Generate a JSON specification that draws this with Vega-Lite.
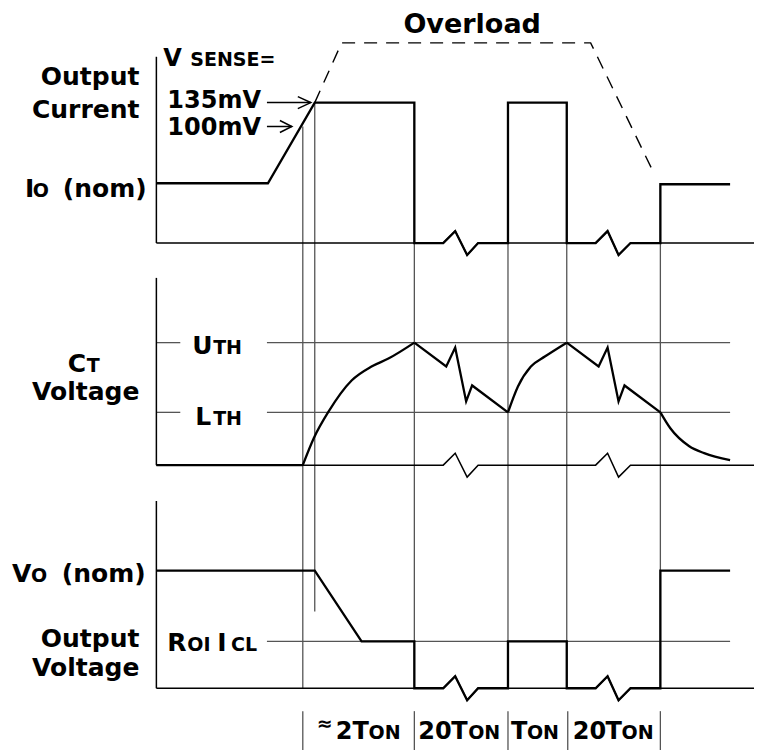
{
  "$schema": "https://vega.github.io/schema/vega-lite/v6.json",
  "width": 757,
  "height": 753,
  "autosize": {"type": "fit", "contains": "padding"},
  "padding": 0,
  "background": "white",
  "config": {"view": {"stroke": null}, "text": {"font": "DejaVu Sans", "fontWeight": "bold", "color": "black"}},
  "datasets": {
    "frame": [
      {"id": "ax1", "i": 0, "x": 157, "y": 57}, {"id": "ax1", "i": 1, "x": 157, "y": 244},
      {"id": "b1", "i": 0, "x": 157, "y": 244}, {"id": "b1", "i": 1, "x": 445, "y": 244}, {"id": "b1", "i": 2, "x": 457, "y": 232}, {"id": "b1", "i": 3, "x": 469, "y": 256}, {"id": "b1", "i": 4, "x": 480, "y": 244}, {"id": "b1", "i": 5, "x": 598, "y": 244}, {"id": "b1", "i": 6, "x": 610, "y": 232}, {"id": "b1", "i": 7, "x": 621, "y": 256}, {"id": "b1", "i": 8, "x": 633, "y": 244}, {"id": "b1", "i": 9, "x": 757, "y": 244},
      {"id": "ax2", "i": 0, "x": 157, "y": 279}, {"id": "ax2", "i": 1, "x": 157, "y": 467},
      {"id": "b2", "i": 0, "x": 157, "y": 467}, {"id": "b2", "i": 1, "x": 445, "y": 467}, {"id": "b2", "i": 2, "x": 457, "y": 455}, {"id": "b2", "i": 3, "x": 469, "y": 479}, {"id": "b2", "i": 4, "x": 480, "y": 467}, {"id": "b2", "i": 5, "x": 598, "y": 467}, {"id": "b2", "i": 6, "x": 610, "y": 455}, {"id": "b2", "i": 7, "x": 621, "y": 479}, {"id": "b2", "i": 8, "x": 633, "y": 467}, {"id": "b2", "i": 9, "x": 757, "y": 467},
      {"id": "ax3", "i": 0, "x": 157, "y": 503}, {"id": "ax3", "i": 1, "x": 157, "y": 691},
      {"id": "b3", "i": 0, "x": 157, "y": 691}, {"id": "b3", "i": 1, "x": 445, "y": 691}, {"id": "b3", "i": 2, "x": 457, "y": 679}, {"id": "b3", "i": 3, "x": 469, "y": 703}, {"id": "b3", "i": 4, "x": 480, "y": 691}, {"id": "b3", "i": 5, "x": 598, "y": 691}, {"id": "b3", "i": 6, "x": 610, "y": 679}, {"id": "b3", "i": 7, "x": 621, "y": 703}, {"id": "b3", "i": 8, "x": 633, "y": 691}, {"id": "b3", "i": 9, "x": 757, "y": 691},
      {"id": "a1", "i": 0, "x": 268, "y": 103}, {"id": "a1", "i": 1, "x": 312, "y": 103},
      {"id": "a1h", "i": 0, "x": 299, "y": 97}, {"id": "a1h", "i": 1, "x": 312, "y": 103}, {"id": "a1h", "i": 2, "x": 299, "y": 109},
      {"id": "a2", "i": 0, "x": 268, "y": 127}, {"id": "a2", "i": 1, "x": 293, "y": 127},
      {"id": "a2h", "i": 0, "x": 281, "y": 121}, {"id": "a2h", "i": 1, "x": 293, "y": 127}, {"id": "a2h", "i": 2, "x": 281, "y": 133}
    ],
    "guide": [
      {"id": "u1", "i": 0, "x": 157, "y": 344}, {"id": "u1", "i": 1, "x": 181, "y": 344},
      {"id": "u2", "i": 0, "x": 268, "y": 344}, {"id": "u2", "i": 1, "x": 733, "y": 344},
      {"id": "l1", "i": 0, "x": 157, "y": 414}, {"id": "l1", "i": 1, "x": 181, "y": 414},
      {"id": "l2", "i": 0, "x": 268, "y": 414}, {"id": "l2", "i": 1, "x": 733, "y": 414},
      {"id": "r1", "i": 0, "x": 268, "y": 644}, {"id": "r1", "i": 1, "x": 733, "y": 644},
      {"id": "v304", "i": 0, "x": 304, "y": 127}, {"id": "v304", "i": 1, "x": 304, "y": 691},
      {"id": "v316", "i": 0, "x": 316, "y": 103}, {"id": "v316", "i": 1, "x": 316, "y": 614},
      {"id": "v416", "i": 0, "x": 416, "y": 103}, {"id": "v416", "i": 1, "x": 416, "y": 691},
      {"id": "v510", "i": 0, "x": 510, "y": 103}, {"id": "v510", "i": 1, "x": 510, "y": 691},
      {"id": "v569", "i": 0, "x": 569, "y": 103}, {"id": "v569", "i": 1, "x": 569, "y": 691},
      {"id": "v663", "i": 0, "x": 663, "y": 185}, {"id": "v663", "i": 1, "x": 663, "y": 691},
      {"id": "t304", "i": 0, "x": 304, "y": 714}, {"id": "t304", "i": 1, "x": 304, "y": 753},
      {"id": "t416", "i": 0, "x": 416, "y": 714}, {"id": "t416", "i": 1, "x": 416, "y": 753},
      {"id": "t510", "i": 0, "x": 510, "y": 714}, {"id": "t510", "i": 1, "x": 510, "y": 753},
      {"id": "t569", "i": 0, "x": 570, "y": 714}, {"id": "t569", "i": 1, "x": 570, "y": 753},
      {"id": "t663", "i": 0, "x": 663, "y": 714}, {"id": "t663", "i": 1, "x": 663, "y": 753}
    ],
    "dash": [
      {"id": "d", "i": 0, "x": 316, "y": 103}, {"id": "d", "i": 1, "x": 343, "y": 43}, {"id": "d", "i": 2, "x": 593, "y": 43}, {"id": "d", "i": 3, "x": 657, "y": 175}
    ],
    "signal": [
      {"id": "sI", "i": 0, "x": 157, "y": 184}, {"id": "sI", "i": 1, "x": 269, "y": 184}, {"id": "sI", "i": 2, "x": 316, "y": 103}, {"id": "sI", "i": 3, "x": 416, "y": 103}, {"id": "sI", "i": 4, "x": 416, "y": 244}, {"id": "sI", "i": 5, "x": 445, "y": 244}, {"id": "sI", "i": 6, "x": 457, "y": 232}, {"id": "sI", "i": 7, "x": 469, "y": 256}, {"id": "sI", "i": 8, "x": 480, "y": 244}, {"id": "sI", "i": 9, "x": 510, "y": 244}, {"id": "sI", "i": 10, "x": 510, "y": 103}, {"id": "sI", "i": 11, "x": 569, "y": 103}, {"id": "sI", "i": 12, "x": 569, "y": 244}, {"id": "sI", "i": 13, "x": 598, "y": 244}, {"id": "sI", "i": 14, "x": 610, "y": 232}, {"id": "sI", "i": 15, "x": 621, "y": 256}, {"id": "sI", "i": 16, "x": 633, "y": 244}, {"id": "sI", "i": 17, "x": 663, "y": 244}, {"id": "sI", "i": 18, "x": 663, "y": 185}, {"id": "sI", "i": 19, "x": 733, "y": 185},
      {"id": "sC1", "i": 0, "x": 157, "y": 467}, {"id": "sC1", "i": 1, "x": 304, "y": 467},
      {"id": "sC2", "i": 0, "x": 416, "y": 344}, {"id": "sC2", "i": 1, "x": 448, "y": 368}, {"id": "sC2", "i": 2, "x": 457, "y": 349}, {"id": "sC2", "i": 3, "x": 468, "y": 403}, {"id": "sC2", "i": 4, "x": 474, "y": 387}, {"id": "sC2", "i": 5, "x": 510, "y": 414},
      {"id": "sC3", "i": 0, "x": 569, "y": 344}, {"id": "sC3", "i": 1, "x": 601, "y": 368}, {"id": "sC3", "i": 2, "x": 610, "y": 349}, {"id": "sC3", "i": 3, "x": 621, "y": 403}, {"id": "sC3", "i": 4, "x": 627, "y": 387}, {"id": "sC3", "i": 5, "x": 663, "y": 414},
      {"id": "sV", "i": 0, "x": 157, "y": 573}, {"id": "sV", "i": 1, "x": 316, "y": 573}, {"id": "sV", "i": 2, "x": 363, "y": 644}, {"id": "sV", "i": 3, "x": 416, "y": 644}, {"id": "sV", "i": 4, "x": 416, "y": 691}, {"id": "sV", "i": 5, "x": 445, "y": 691}, {"id": "sV", "i": 6, "x": 457, "y": 679}, {"id": "sV", "i": 7, "x": 469, "y": 703}, {"id": "sV", "i": 8, "x": 480, "y": 691}, {"id": "sV", "i": 9, "x": 510, "y": 691}, {"id": "sV", "i": 10, "x": 510, "y": 644}, {"id": "sV", "i": 11, "x": 569, "y": 644}, {"id": "sV", "i": 12, "x": 569, "y": 691}, {"id": "sV", "i": 13, "x": 598, "y": 691}, {"id": "sV", "i": 14, "x": 610, "y": 679}, {"id": "sV", "i": 15, "x": 621, "y": 703}, {"id": "sV", "i": 16, "x": 633, "y": 691}, {"id": "sV", "i": 17, "x": 663, "y": 691}, {"id": "sV", "i": 18, "x": 663, "y": 573}, {"id": "sV", "i": 19, "x": 733, "y": 573}
    ],
    "curve": [
      {"id": "k1", "i": 0, "x": 304, "y": 467}, {"id": "k1", "i": 1, "x": 315, "y": 440}, {"id": "k1", "i": 2, "x": 330, "y": 413}, {"id": "k1", "i": 3, "x": 353, "y": 382}, {"id": "k1", "i": 4, "x": 373, "y": 368}, {"id": "k1", "i": 5, "x": 390, "y": 360}, {"id": "k1", "i": 6, "x": 416, "y": 344},
      {"id": "k2", "i": 0, "x": 510, "y": 414}, {"id": "k2", "i": 1, "x": 520, "y": 388}, {"id": "k2", "i": 2, "x": 533, "y": 368}, {"id": "k2", "i": 3, "x": 547, "y": 358}, {"id": "k2", "i": 4, "x": 569, "y": 344},
      {"id": "k3", "i": 0, "x": 663, "y": 414}, {"id": "k3", "i": 1, "x": 673, "y": 430}, {"id": "k3", "i": 2, "x": 692, "y": 448}, {"id": "k3", "i": 3, "x": 707, "y": 455}, {"id": "k3", "i": 4, "x": 733, "y": 462}
    ],
    "labelsRight": [
      {"t": "Output", "x": 140, "y": 85}, {"t": "Current", "x": 140, "y": 118},
      {"t": "Voltage", "x": 140, "y": 402},
      {"t": "Output", "x": 140, "y": 650}, {"t": "Voltage", "x": 140, "y": 679}
    ],
    "bigLeft": [
      {"t": "I", "x": 25, "y": 198}, {"t": "(nom)", "x": 63, "y": 198},
      {"t": "V", "x": 12, "y": 584}, {"t": "(nom)", "x": 62, "y": 584},
      {"t": "C", "x": 68, "y": 373},
      {"t": "U", "x": 193, "y": 355}, {"t": "L", "x": 196, "y": 427},
      {"t": "R", "x": 168, "y": 654}, {"t": "I", "x": 218, "y": 654}
    ],
    "mid": [
      {"t": "V", "x": 164, "y": 66}, {"t": "135mV", "x": 168, "y": 108}, {"t": "100mV", "x": 168, "y": 136},
      {"t": "2", "x": 337, "y": 742}, {"t": "T", "x": 354, "y": 742},
      {"t": "20", "x": 420, "y": 742}, {"t": "T", "x": 453, "y": 742},
      {"t": "T", "x": 513, "y": 742},
      {"t": "20", "x": 575, "y": 742}, {"t": "T", "x": 608, "y": 742}
    ],
    "title": [
      {"t": "Overload", "x": 405, "y": 33}
    ],
    "small": [
      {"t": "SENSE=", "x": 191, "y": 66},
      {"t": "O", "x": 33, "y": 198}, {"t": "O", "x": 31, "y": 584},
      {"t": "T", "x": 87, "y": 373},
      {"t": "TH", "x": 214, "y": 355}, {"t": "TH", "x": 214, "y": 427},
      {"t": "OI", "x": 188, "y": 654}, {"t": "CL", "x": 232, "y": 654},
      {"t": "≈", "x": 318, "y": 733},
      {"t": "ON", "x": 370, "y": 742}, {"t": "ON", "x": 470, "y": 742}, {"t": "ON", "x": 529, "y": 742}, {"t": "ON", "x": 624, "y": 742}
    ]
  },
  "encoding": {
    "x": {"field": "x", "type": "quantitative", "scale": {"domain": [0, 757], "nice": false, "zero": false}, "axis": null},
    "y": {"field": "y", "type": "quantitative", "scale": {"domain": [0, 753], "nice": false, "zero": false, "reverse": true}, "axis": null}
  },
  "layer": [
    {"data": {"name": "guide"}, "mark": {"type": "line", "color": "#555555", "strokeWidth": 1.3, "strokeCap": "butt"},
     "encoding": {"detail": {"field": "id", "type": "nominal"}, "order": {"field": "i", "type": "quantitative"}}},
    {"data": {"name": "frame"}, "mark": {"type": "line", "color": "black", "strokeWidth": 1.5, "strokeCap": "butt"},
     "encoding": {"detail": {"field": "id", "type": "nominal"}, "order": {"field": "i", "type": "quantitative"}}},
    {"data": {"name": "dash"}, "mark": {"type": "line", "color": "black", "strokeWidth": 1.4, "strokeDash": [13, 9]},
     "encoding": {"detail": {"field": "id", "type": "nominal"}, "order": {"field": "i", "type": "quantitative"}}},
    {"data": {"name": "signal"}, "mark": {"type": "line", "color": "black", "strokeWidth": 2.3, "strokeJoin": "miter", "strokeCap": "butt"},
     "encoding": {"detail": {"field": "id", "type": "nominal"}, "order": {"field": "i", "type": "quantitative"}}},
    {"data": {"name": "curve"}, "mark": {"type": "line", "color": "black", "strokeWidth": 2.3, "interpolate": "monotone"},
     "encoding": {"detail": {"field": "id", "type": "nominal"}, "order": {"field": "i", "type": "quantitative"}}},
    {"data": {"name": "labelsRight"}, "mark": {"type": "text", "align": "right", "baseline": "alphabetic", "fontSize": 25},
     "encoding": {"text": {"field": "t"}}},
    {"data": {"name": "bigLeft"}, "mark": {"type": "text", "align": "left", "baseline": "alphabetic", "fontSize": 25},
     "encoding": {"text": {"field": "t"}}},
    {"data": {"name": "mid"}, "mark": {"type": "text", "align": "left", "baseline": "alphabetic", "fontSize": 24},
     "encoding": {"text": {"field": "t"}}},
    {"data": {"name": "title"}, "mark": {"type": "text", "align": "left", "baseline": "alphabetic", "fontSize": 27},
     "encoding": {"text": {"field": "t"}}},
    {"data": {"name": "small"}, "mark": {"type": "text", "align": "left", "baseline": "alphabetic", "fontSize": 19},
     "encoding": {"text": {"field": "t"}}}
  ]
}
